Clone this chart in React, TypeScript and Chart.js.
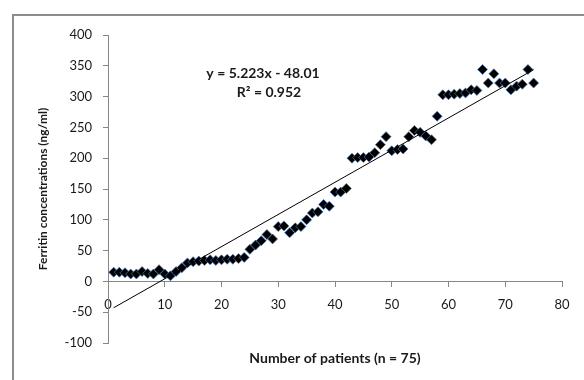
import React, { useEffect, useRef } from 'react';
import { Chart, registerables } from 'chart.js';

Chart.register(...registerables);

// Ferritin concentration (ng/ml) for patients 1..75, in patient order
const ferritin = [
  15, 15, 14, 12, 12, 16, 13, 12, 19, 12,
  9, 16, 22, 30, 32, 33, 34, 35, 34, 35,
  36, 36, 37, 39, 52, 59, 66, 76, 69, 89,
  90, 79, 87, 89, 100, 111, 113, 125, 122, 145,
  145, 151, 200, 201, 201, 202, 209, 222, 235, 212,
  214, 215, 235, 245, 242, 236, 230, 268, 303, 303,
  304, 305, 306, 311, 310, 344, 322, 337, 322, 322,
  311, 317, 320, 344, 322,
];

// Linear trendline reported on the chart
const slope = 5.223;
const intercept = -48.01;
const trendRange = [1, 75];

const xAxisRange = [0, 80];
const xStep = 10;
const yAxisRange = [-100, 400];
const yStep = 50;

const equationText = 'y = 5.223x - 48.01';
const r2Text = 'R\u00B2 = 0.952';
const xTitle = 'Number of patients (n = 75)';
const yTitle = 'Ferritin concentrations (ng/ml)';

const AXIS_COLOR = '#868686';
const TEXT_COLOR = '#1a1a1a';
const FONT = 'Lato';

const equationPlugin = {
  id: 'equationLabel',
  afterDatasetsDraw(chart: any) {
    const ctx = chart.ctx;
    ctx.save();
    ctx.font = `bold 14px ${FONT}`;
    ctx.fillStyle = TEXT_COLOR;
    ctx.textAlign = 'center';
    ctx.textBaseline = 'middle';
    ctx.fillText(equationText, 263, 73);
    ctx.fillText(r2Text, 269, 92);
    ctx.restore();
  },
};

export default function App() {
  const canvasRef = useRef<HTMLCanvasElement>(null);

  useEffect(() => {
    const points = ferritin.map((v, i) => ({ x: i + 1, y: v }));
    const trend = trendRange.map((x) => ({ x, y: slope * x + intercept }));

    const chart = new Chart(canvasRef.current as HTMLCanvasElement, {
      type: 'scatter',
      data: {
        datasets: [
          {
            type: 'line',
            label: 'Linear trend',
            data: trend,
            borderColor: '#000',
            borderWidth: 1,
            pointRadius: 0,
            fill: false,
          } as any,
          {
            label: 'Ferritin',
            data: points,
            pointStyle: 'rectRot',
            pointRadius: 5,
            backgroundColor: '#000',
            borderColor: 'rgba(70,120,190,0.7)',
            borderWidth: 1,
          },
        ],
      },
      options: {
        responsive: false,
        animation: false,
        devicePixelRatio: 1,
        layout: { padding: { top: 35, right: 22, left: 0, bottom: 0 } },
        plugins: {
          legend: { display: false },
          tooltip: { enabled: false },
        },
        scales: {
          x: {
            type: 'linear',
            position: { y: 0 } as any,
            min: xAxisRange[0],
            max: xAxisRange[1],
            ticks: {
              stepSize: xStep,
              padding: 11,
              color: TEXT_COLOR,
              font: { family: FONT, size: 13 },
              maxRotation: 0,
            },
            grid: {
              display: true,
              drawOnChartArea: false,
              drawTicks: true,
              tickLength: 5,
              color: AXIS_COLOR,
            },
            border: { display: true, color: AXIS_COLOR, width: 1 },
            afterFit: (s: any) => {
              s.height = 0;
            },
          },
          xt: {
            type: 'linear',
            axis: 'x',
            position: 'bottom',
            min: xAxisRange[0],
            max: xAxisRange[1],
            ticks: { display: false },
            grid: { display: false },
            border: { display: false },
            title: {
              display: true,
              text: xTitle,
              color: TEXT_COLOR,
              font: { family: FONT, size: 14, weight: 'bold' },
              padding: { top: 0, bottom: 13 },
            },
            afterFit: (s: any) => {
              s.height = 37;
            },
          } as any,
          y: {
            type: 'linear',
            position: 'left',
            min: yAxisRange[0],
            max: yAxisRange[1],
            ticks: {
              stepSize: yStep,
              padding: 11,
              color: TEXT_COLOR,
              font: { family: FONT, size: 13 },
            },
            grid: {
              display: true,
              drawOnChartArea: false,
              drawTicks: true,
              tickLength: 5,
              color: AXIS_COLOR,
            },
            border: { display: true, color: AXIS_COLOR, width: 1 },
            title: {
              display: true,
              text: yTitle,
              color: TEXT_COLOR,
              font: { family: FONT, size: 12, weight: 'bold' },
              padding: { top: 36, bottom: 0 },
            },
            afterFit: (s: any) => {
              s.width = 108;
            },
          },
        },
      },
      plugins: [equationPlugin],
    });

    return () => chart.destroy();
  }, []);

  return (
    <div
      style={{
        position: 'fixed',
        left: 0,
        top: 0,
        width: 584,
        height: 380,
        overflow: 'hidden',
        background: '#fff',
      }}
    >
      <div
        style={{
          position: 'absolute',
          left: 12,
          top: 14,
          width: 700,
          height: 500,
          borderLeft: '2px solid #8c8c8c',
          borderTop: '2px solid #8c8c8c',
        }}
      />
      <canvas
        ref={canvasRef}
        width={584}
        height={380}
        style={{ position: 'absolute', left: 0, top: 0, width: 584, height: 380 }}
      />
    </div>
  );
}
